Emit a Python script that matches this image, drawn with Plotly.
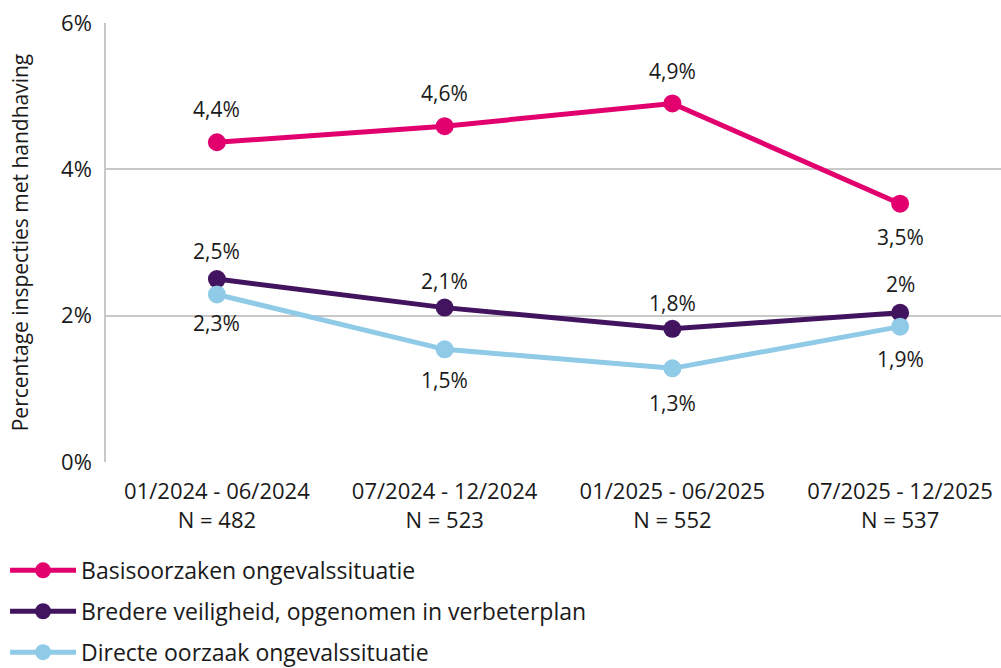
import plotly.graph_objects as go

categories = ["01/2024 - 06/2024<br>N = 482", "07/2024 - 12/2024<br>N = 523",
              "01/2025 - 06/2025<br>N = 552", "07/2025 - 12/2025<br>N = 537"]

basis = [4.37, 4.59, 4.90, 3.53]
basis_text = ["4,4%", "4,6%", "4,9%", "3,5%"]
breder = [2.50, 2.11, 1.82, 2.04]
breder_text = ["2,5%", "2,1%", "1,8%", "2%"]
directe = [2.29, 1.54, 1.28, 1.85]
directe_text = ["2,3%", "1,5%", "1,3%", "1,9%"]

series_names = ["Basisoorzaken ongevalssituatie",
                "Bredere veiligheid, opgenomen in verbeterplan",
                "Directe oorzaak ongevalssituatie"]
colors = ["#E2006F", "#42145F", "#8FCAE7"]

FONT = "Open Sans"
TXT = "#1a1a1a"
fig = go.Figure()

for i, (name, vals, col) in enumerate(zip(series_names, [basis, breder, directe], colors)):
    fig.add_trace(go.Scatter(
        x=categories, y=vals, mode="lines+markers", name=name,
        line=dict(color=col, width=5), marker=dict(color=col, size=18),
        legendgroup=f"g{i}", hoverinfo="skip"))

# data labels
shifts = [[33, 33, 32, -33], [28, 27, 26, 29], [-29, -31, -35, -32]]
for vals, texts, sh in zip([basis, breder, directe], [basis_text, breder_text, directe_text], shifts):
    for x, y, t, s in zip(categories, vals, texts, sh):
        fig.add_annotation(x=x, y=y, text=t, showarrow=False, yshift=s,
                           font=dict(family=FONT, size=21, color=TXT))

fig.update_layout(
    width=1001, height=668,
    margin=dict(l=106, r=0, t=23, b=206, autoexpand=False),
    paper_bgcolor="white", plot_bgcolor="white",
    font=dict(family=FONT, size=21, color=TXT),
    showlegend=True,
    legend=dict(orientation="v", x=-0.1128, xanchor="left", y=-0.198, yanchor="top",
                font=dict(family=FONT, size=23, color=TXT),
                traceorder="grouped", tracegroupgap=8, itemwidth=66,
                bgcolor="rgba(0,0,0,0)"),
)
fig.update_xaxes(type="category", range=[-0.487, 3.443], showgrid=False,
                 showline=False, ticks="", tickfont=dict(family=FONT, size=22, color=TXT),
                 zeroline=False, automargin=False, ticklabelstandoff=14)
fig.update_yaxes(range=[0, 6], tickvals=[0, 2, 4, 6], ticktext=["0%", "2%", "4%", "6%"],
                 showgrid=True, gridcolor="#C8C8C8", gridwidth=1.5,
                 showline=True, linecolor="#C8C8C8", linewidth=1.5,
                 zeroline=False, ticks="", ticklabelstandoff=8, automargin=False,
                 title=dict(text="Percentage inspecties met handhaving", standoff=27,
                            font=dict(family=FONT, size=21, color=TXT)),
                 tickfont=dict(family=FONT, size=22, color=TXT))

fig.write_html("out.html", config={"displayModeBar": False},
               post_script="document.body.style.margin='0';document.body.style.padding='0';document.body.style.overflow='hidden';")
